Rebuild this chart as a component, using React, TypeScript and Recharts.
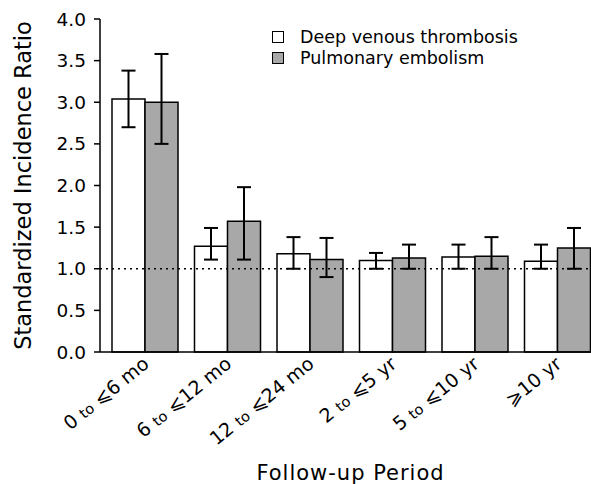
import React from "react";
import {
  BarChart,
  Bar,
  XAxis,
  YAxis,
  ErrorBar,
  ReferenceLine,
  Legend,
  Label,
} from "recharts";

const periods = ["0 to ⩽6 mo", "6 to ⩽12 mo", "12 to ⩽24 mo", "2 to ⩽5 yr", "5 to ⩽10 yr", "⩾10 yr"];
const dvt = [3.04, 1.27, 1.18, 1.1, 1.14, 1.09];
const dvtLow = [2.7, 1.11, 1.0, 1.0, 1.0, 1.0];
const dvtHigh = [3.38, 1.49, 1.38, 1.19, 1.29, 1.29];
const pe = [3.0, 1.57, 1.11, 1.13, 1.15, 1.25];
const peLow = [2.5, 1.11, 0.9, 1.0, 1.0, 1.0];
const peHigh = [3.58, 1.98, 1.37, 1.29, 1.38, 1.49];
const yTicks = [0, 0.5, 1, 1.5, 2, 2.5, 3, 3.5, 4];
const seriesNames = ["Deep venous thrombosis", "Pulmonary embolism"];

const data = periods.map((p, i) => ({
  period: p,
  dvt: dvt[i],
  dvtErr: [dvt[i] - dvtLow[i], dvtHigh[i] - dvt[i]],
  pe: pe[i],
  peErr: [pe[i] - peLow[i], peHigh[i] - pe[i]],
}));

const FONT = "'DejaVu Sans', sans-serif";
const GRAY = "#a8a8a8";

function PeriodTick(props: any) {
  const { x, y, payload } = props;
  const label: string = payload.value;
  const parts = label.split(" to ");
  const ax = x + 5;
  const ay = y + 6;
  return (
    <text
      x={ax}
      y={ay}
      textAnchor="end"
      fontFamily={FONT}
      fontSize={19}
      fill="#000"
      transform={`rotate(-39 ${ax} ${ay})`}
    >
      {parts.length === 2 ? (
        <>
          <tspan>{parts[0] + " "}</tspan>
          <tspan fontSize={14.5}>to</tspan>
          <tspan>{" " + parts[1]}</tspan>
        </>
      ) : (
        <tspan>{label}</tspan>
      )}
    </text>
  );
}

function LegendBox() {
  const fills = ["#ffffff", GRAY];
  return (
    <div style={{ position: "relative", width: 270, height: 50, fontFamily: FONT }}>
      {seriesNames.map((n, i) => (
        <div
          key={n}
          style={{ position: "absolute", left: 0, top: i * 21, height: 20, display: "flex", alignItems: "center" }}
        >
          <div
            style={{
              width: 10,
              height: 10,
              border: "1.5px solid #000",
              background: fills[i],
              marginRight: 16,
            }}
          />
          <span style={{ fontSize: 17.5, color: "#000", whiteSpace: "nowrap" }}>{n}</span>
        </div>
      ))}
    </div>
  );
}

export default function App() {
  return (
    <div style={{ position: "absolute", left: 0, top: 0, width: 591, height: 484, background: "#fff", overflow: "hidden" }}>
      <BarChart
        width={591}
        height={484}
        data={data}
        margin={{ top: 19, right: 0, left: 0, bottom: 0 }}
        barGap={0}
        barSize={33}
      >
        <XAxis
          dataKey="period"
          height={132}
          interval={0}
          tickLine={false}
          axisLine={{ stroke: "#000", strokeWidth: 1.5 }}
          padding={{ left: 4, right: -8 }}
          tick={<PeriodTick />}
        >
          <Label
            value="Follow-up Period"
            position="insideBottom"
            offset={4}
            dx={5}
            style={{ fontFamily: FONT, fontSize: 21, letterSpacing: 1, fill: "#000" }}
          />
        </XAxis>
        <YAxis
          width={100}
          domain={[0, 4]}
          ticks={yTicks}
          interval={0}
          tickSize={6}
          tickMargin={8}
          tickFormatter={(v: number) => v.toFixed(1)}
          tickLine={{ stroke: "#000", strokeWidth: 1.5 }}
          axisLine={{ stroke: "#000", strokeWidth: 1.5 }}
          tick={{ fill: "#000", fontSize: 18.5, fontFamily: FONT }}
        >
          <Label
            value="Standardized Incidence Ratio"
            angle={-90}
            position="center"
            dx={-27}
            style={{ fontFamily: FONT, fontSize: 22.5, fill: "#000", textAnchor: "middle" }}
          />
        </YAxis>
        <Legend
          layout="vertical"
          align="center"
          verticalAlign="middle"
          content={<LegendBox />}
          wrapperStyle={{ left: 272, top: 27, width: 280, height: 50 }}
        />
        <Bar dataKey="dvt" fill="#ffffff" stroke="#000" strokeWidth={1.5} isAnimationActive={false}>
          <ErrorBar dataKey="dvtErr" width={7} stroke="#000" strokeWidth={2} isAnimationActive={false} />
        </Bar>
        <Bar dataKey="pe" fill={GRAY} stroke="#000" strokeWidth={1.5} isAnimationActive={false}>
          <ErrorBar dataKey="peErr" width={7} stroke="#000" strokeWidth={2} isAnimationActive={false} />
        </Bar>
        <ReferenceLine y={1} stroke="#000" strokeWidth={1.5} strokeDasharray="2 4" />
      </BarChart>
    </div>
  );
}
